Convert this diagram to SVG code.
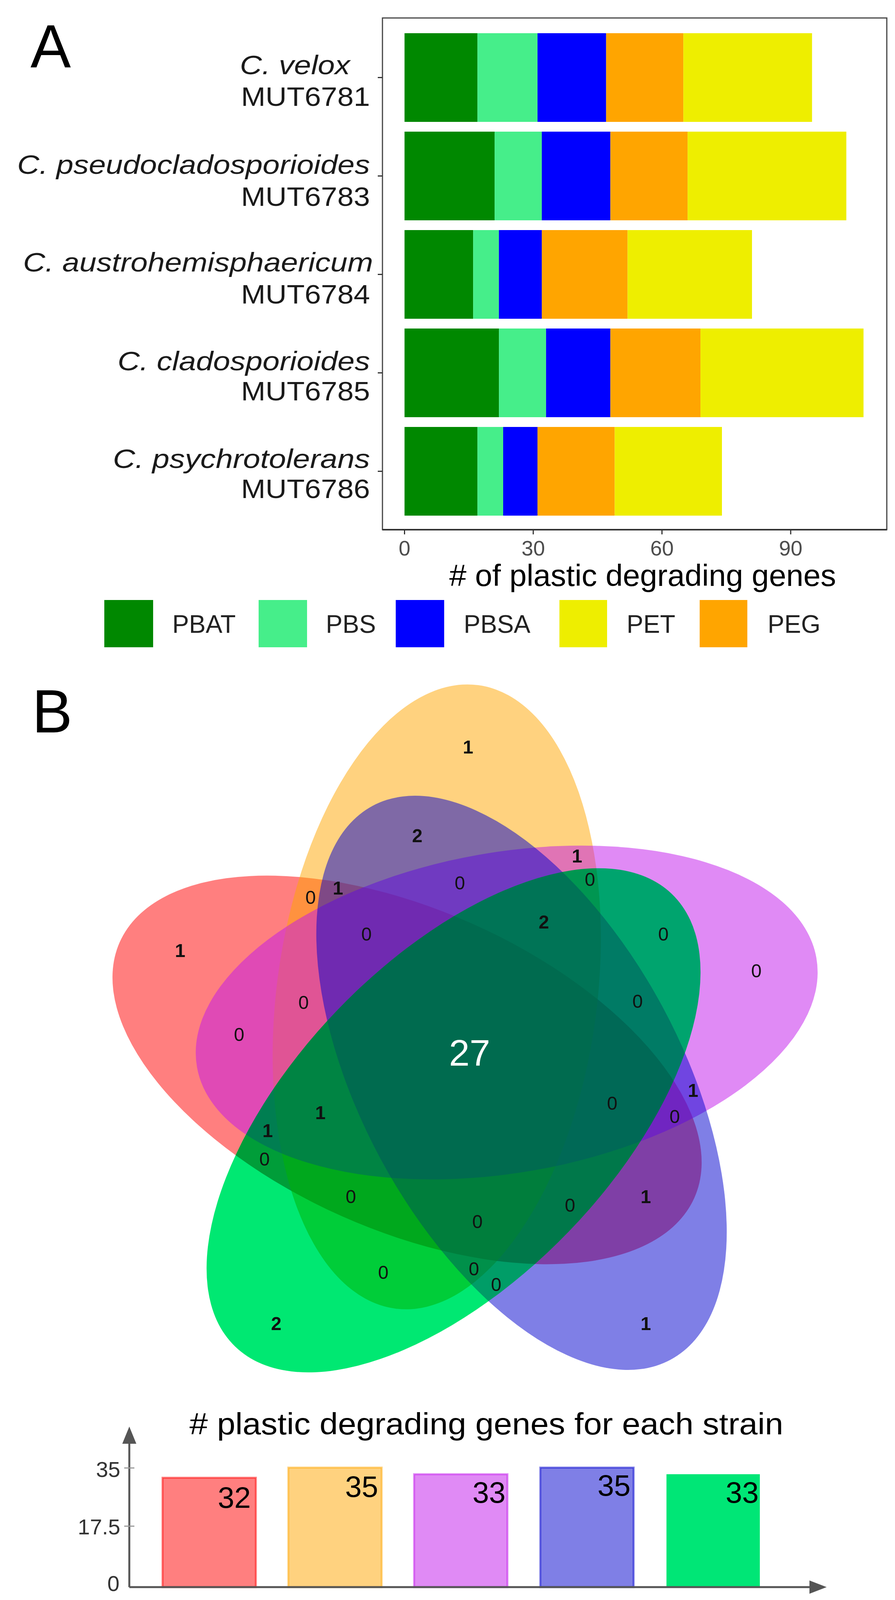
<svg xmlns="http://www.w3.org/2000/svg" width="2291" height="4970" viewBox="0 0 2291 4970">
<style>
text{font-family:"Liberation Sans",Arial,Helvetica,sans-serif}
.it{font-style:italic}
.lab{font-size:68px;fill:#1a1a1a}
.tk{font-size:54px;fill:#4d4d4d}
.leg{font-size:64px;fill:#222}
.vn{font-size:48px;fill:#111;text-anchor:middle}
.vb{font-weight:bold}
.lg{font-size:66px;fill:#1a1a1a}
.big{font-size:155px;fill:#000}
.ttl{font-size:78px;fill:#000}
.val{font-size:76px;fill:#000;text-anchor:end}
.ytk{font-size:56px;fill:#333;text-anchor:end}
.stk{font-size:42px;fill:#555;text-anchor:middle}
.sv{font-size:50px;font-weight:bold;fill:#111;text-anchor:middle}
.pbat{fill:#008800}.pbs{fill:#46ee8a}.pbsa{fill:#0000ff}.peg{fill:#ffa500}.pet{fill:#eeee00}
.ax{stroke:#555;stroke-width:5;fill:none}
.tkl{stroke:#333;stroke-width:3}
.sb{stroke:#c4c4c4;stroke-width:6}
</style>
<rect width="2291" height="4970" fill="#fff"/>

<!-- Panel A -->
<text class="big" x="78" y="172" font-size="150">A</text>
<g id="plotA-frame">
<rect x="979" y="46" width="1291" height="1310" fill="none" stroke="#444" stroke-width="3"/>
<line x1="979" y1="1356" x2="2270" y2="1356" stroke="#333" stroke-width="4"/>
<line class="tkl" x1="1035.5" y1="1356" x2="1035.5" y2="1368"/>
<line class="tkl" x1="1365" y1="1356" x2="1365" y2="1368"/>
<line class="tkl" x1="1694.5" y1="1356" x2="1694.5" y2="1368"/>
<line class="tkl" x1="2024" y1="1356" x2="2024" y2="1368"/>
<line class="tkl" x1="967" y1="198.5" x2="979" y2="198.5"/>
<line class="tkl" x1="967" y1="450.5" x2="979" y2="450.5"/>
<line class="tkl" x1="967" y1="702.5" x2="979" y2="702.5"/>
<line class="tkl" x1="967" y1="954.5" x2="979" y2="954.5"/>
<line class="tkl" x1="967" y1="1206.5" x2="979" y2="1206.5"/>
<text class="tk" x="1035.5" y="1422" text-anchor="middle">0</text>
<text class="tk" x="1365" y="1422" text-anchor="middle">30</text>
<text class="tk" x="1694.5" y="1422" text-anchor="middle">60</text>
<text class="tk" x="2024" y="1422" text-anchor="middle">90</text>
<text class="ttl" x="1150" y="1500" font-size="72" textLength="990" lengthAdjust="spacingAndGlyphs"># of plastic degrading genes</text>
</g>

<g id="barA-6781">
<rect class="pbat" x="1035.5" y="85" width="186.7" height="227"/>
<rect class="pbs" x="1222.2" y="85" width="153.7" height="227"/>
<rect class="pbsa" x="1375.9" y="85" width="175.7" height="227"/>
<rect class="peg" x="1551.6" y="85" width="197.6" height="227"/>
<rect class="pet" x="1749.2" y="85" width="329.4" height="227"/>
<text class="lab it" x="896" y="190" text-anchor="end" textLength="282" lengthAdjust="spacingAndGlyphs">C. velox</text>
<text class="lab" x="947" y="271" text-anchor="end" textLength="330" lengthAdjust="spacingAndGlyphs">MUT6781</text>
</g>
<g id="barA-6783">
<rect class="pbat" x="1035.5" y="337" width="230.6" height="227"/>
<rect class="pbs" x="1266.1" y="337" width="120.8" height="227"/>
<rect class="pbsa" x="1386.9" y="337" width="175.6" height="227"/>
<rect class="peg" x="1562.5" y="337" width="197.7" height="227"/>
<rect class="pet" x="1760.2" y="337" width="406.2" height="227"/>
<text class="lab it" x="947" y="445" text-anchor="end" textLength="903" lengthAdjust="spacingAndGlyphs">C. pseudocladosporioides</text>
<text class="lab" x="947" y="527" text-anchor="end" textLength="330" lengthAdjust="spacingAndGlyphs">MUT6783</text>
</g>
<g id="barA-6784">
<rect class="pbat" x="1035.5" y="589" width="175.7" height="227"/>
<rect class="pbs" x="1211.2" y="589" width="65.9" height="227"/>
<rect class="pbsa" x="1277.1" y="589" width="109.8" height="227"/>
<rect class="peg" x="1386.9" y="589" width="219.6" height="227"/>
<rect class="pet" x="1606.5" y="589" width="318.4" height="227"/>
<text class="lab it" x="955" y="695" text-anchor="end" textLength="896" lengthAdjust="spacingAndGlyphs">C. austrohemisphaericum</text>
<text class="lab" x="947" y="777" text-anchor="end" textLength="330" lengthAdjust="spacingAndGlyphs">MUT6784</text>
</g>
<g id="barA-6785">
<rect class="pbat" x="1035.5" y="841" width="241.6" height="227"/>
<rect class="pbs" x="1277.1" y="841" width="120.7" height="227"/>
<rect class="pbsa" x="1397.8" y="841" width="164.7" height="227"/>
<rect class="peg" x="1562.5" y="841" width="230.6" height="227"/>
<rect class="pet" x="1793.1" y="841" width="417.3" height="227"/>
<text class="lab it" x="947" y="948" text-anchor="end" textLength="646" lengthAdjust="spacingAndGlyphs">C. cladosporioides</text>
<text class="lab" x="947" y="1025" text-anchor="end" textLength="330" lengthAdjust="spacingAndGlyphs">MUT6785</text>
</g>
<g id="barA-6786">
<rect class="pbat" x="1035.5" y="1093" width="186.7" height="227"/>
<rect class="pbs" x="1222.2" y="1093" width="65.8" height="227"/>
<rect class="pbsa" x="1288" y="1093" width="87.9" height="227"/>
<rect class="peg" x="1375.9" y="1093" width="197.6" height="227"/>
<rect class="pet" x="1573.5" y="1093" width="274.5" height="227"/>
<text class="lab it" x="947" y="1198" text-anchor="end" textLength="658" lengthAdjust="spacingAndGlyphs">C. psychrotolerans</text>
<text class="lab" x="947" y="1275" text-anchor="end" textLength="330" lengthAdjust="spacingAndGlyphs">MUT6786</text>
</g>

<g id="legendA">
<rect class="pbat" x="267" y="1536" width="125" height="121"/>
<text class="leg" x="441" y="1620">PBAT</text>
<rect class="pbs" x="662" y="1536" width="124" height="121"/>
<text class="leg" x="834" y="1620">PBS</text>
<rect class="pbsa" x="1013" y="1536" width="124" height="121"/>
<text class="leg" x="1187" y="1620">PBSA</text>
<rect class="pet" x="1432" y="1536" width="122" height="121"/>
<text class="leg" x="1604" y="1620">PET</text>
<rect class="peg" x="1791" y="1536" width="122" height="121"/>
<text class="leg" x="1965" y="1620">PEG</text>
</g>

<!-- Panel B -->
<text class="big" x="82" y="1875">B</text>
<g id="venn-velox"><ellipse cx="0" cy="0" rx="805" ry="410" transform="translate(1042 2739) rotate(24)" fill="#ff0000" fill-opacity="0.5"/></g>
<g id="venn-pseudocladosporioides"><ellipse cx="0" cy="0" rx="805" ry="410" transform="translate(1118 2552) rotate(-82.4)" fill="#ffa500" fill-opacity="0.5"/></g>
<g id="venn-austrohemisphaericum"><ellipse cx="0" cy="0" rx="805" ry="410" transform="translate(1297 2592) rotate(-10)" fill="#c115eb" fill-opacity="0.5"/></g>
<g id="venn-cladosporioides"><ellipse cx="0" cy="0" rx="805" ry="410" transform="translate(1335 2772) rotate(61.7)" fill="#0000cd" fill-opacity="0.5"/></g>
<g id="venn-psychrotolerans">
<ellipse cx="0" cy="0" rx="805" ry="410" transform="translate(1161 2868) rotate(-46)" fill="rgb(0,173,57)" style="mix-blend-mode:hard-light"/>
<ellipse cx="0" cy="0" rx="805" ry="410" transform="translate(1161 2868) rotate(-46)" fill="rgb(255,232,255)" style="mix-blend-mode:multiply"/>
</g>

<g id="venn-labels">
<text class="vn vb" x="1198" y="1929">1</text>
<text class="vn vb" x="1068" y="2156">2</text>
<text class="vn" x="1177" y="2277">0</text>
<text class="vn" x="795" y="2314">0</text>
<text class="vn vb" x="865" y="2290">1</text>
<text class="vn vb" x="461" y="2450">1</text>
<text class="vn" x="938" y="2408">0</text>
<text class="vn" x="777" y="2583">0</text>
<text class="vn" x="612" y="2665">0</text>
<text class="vn vb" x="1477" y="2208">1</text>
<text class="vn" x="1510" y="2268">0</text>
<text class="vn vb" x="1392" y="2377">2</text>
<text class="vn" x="1698" y="2408">0</text>
<text class="vn" x="1936" y="2502">0</text>
<text class="vn" x="1632" y="2580">0</text>
<text class="vn vb" x="820" y="2865">1</text>
<text class="vn vb" x="685" y="2911">1</text>
<text class="vn" x="677" y="2984">0</text>
<text class="vn" x="898" y="3080">0</text>
<text class="vn" x="981" y="3274">0</text>
<text class="vn vb" x="707" y="3405">2</text>
<text x="1202" y="2728" font-size="95" fill="#fff" text-anchor="middle">27</text>
<text class="vn" x="1567" y="2841">0</text>
<text class="vn vb" x="1774" y="2808">1</text>
<text class="vn" x="1727" y="2875">0</text>
<text class="vn vb" x="1653" y="3080">1</text>
<text class="vn" x="1459" y="3102">0</text>
<text class="vn" x="1222" y="3144">0</text>
<text class="vn" x="1213" y="3265">0</text>
<text class="vn" x="1270" y="3305">0</text>
<text class="vn vb" x="1653" y="3405">1</text>
</g>

<g id="strain-chart">
<text class="ttl" x="485" y="3672" textLength="1520" lengthAdjust="spacingAndGlyphs"># plastic degrading genes for each strain</text>
<line class="ax" x1="331" y1="4063" x2="331" y2="3690"/>
<polygon points="331,3652 313,3696 349,3696" fill="#555"/>
<line x1="318" y1="3758" x2="344" y2="3758" stroke="#999" stroke-width="3"/>
<line x1="318" y1="3907" x2="344" y2="3907" stroke="#999" stroke-width="3"/>
<text class="ytk" x="308" y="3781">35</text>
<text class="ytk" x="308" y="3928">17.5</text>
<text class="ytk" x="306" y="4073">0</text>
</g>
<g id="bar-6781"><rect x="416" y="3783" width="239" height="280" fill="#ff0000" fill-opacity="0.5" stroke="#ff0000" stroke-opacity="0.5" stroke-width="5"/><text class="val" x="642" y="3860">32</text></g>
<g id="bar-6783"><rect x="738" y="3757" width="239" height="306" fill="#ffa500" fill-opacity="0.5" stroke="#ffa500" stroke-opacity="0.5" stroke-width="5"/><text class="val" x="968" y="3832">35</text></g>
<g id="bar-6784"><rect x="1060" y="3774" width="239" height="289" fill="#c115eb" fill-opacity="0.5" stroke="#c115eb" stroke-opacity="0.5" stroke-width="5"/><text class="val" x="1294" y="3847">33</text></g>
<g id="bar-6785"><rect x="1383" y="3757" width="239" height="306" fill="#0000cd" fill-opacity="0.5" stroke="#0000cd" stroke-opacity="0.5" stroke-width="5"/><text class="val" x="1614" y="3829">35</text></g>
<g id="bar-6786"><rect x="1706" y="3774" width="239" height="289" fill="#00e676"/><text class="val" x="1942" y="3847">33</text></g>
<g id="strain-xaxis">
<line class="ax" x1="331" y1="4063" x2="2078" y2="4063"/>
<polygon points="2116,4063 2072,4046 2072,4080" fill="#555"/>
</g>

<g id="shared-chart">
<text class="ttl" x="576" y="4250" textLength="1336" lengthAdjust="spacingAndGlyphs"># of shared plastic degrading genes</text>
<rect class="sb" x="377" y="4346" width="1084" height="85" fill="#f2e4ee"/>
<rect class="sb" x="1469" y="4346" width="106" height="85" fill="#f0deec"/>
<rect class="sb" x="1590" y="4346" width="68" height="85" fill="#ead4e6"/>
<rect class="sb" x="1669" y="4346" width="194" height="85" fill="#dec0d8"/>
<rect class="sb" x="1874" y="4346" width="190" height="85" fill="#c894bc"/>
<text class="sv" x="919" y="4409">27</text>
<text class="sv" x="1520" y="4409">3</text>
<text class="sv" x="1770" y="4409">5</text>
<text class="sv" x="1970" y="4409">5</text>
<line x1="333" y1="4454" x2="2110" y2="4454" stroke="#555" stroke-width="5"/>
<line x1="919" y1="4456" x2="919" y2="4477" stroke="#999" stroke-width="3"/>
<line x1="1523" y1="4456" x2="1523" y2="4477" stroke="#999" stroke-width="3"/>
<line x1="1625" y1="4456" x2="1625" y2="4477" stroke="#999" stroke-width="3"/>
<line x1="1765" y1="4456" x2="1765" y2="4477" stroke="#999" stroke-width="3"/>
<line x1="1969" y1="4456" x2="1969" y2="4477" stroke="#999" stroke-width="3"/>
<text class="stk" x="919" y="4528">5</text>
<text class="stk" x="1523" y="4528">4</text>
<text class="stk" x="1614" y="4528" text-anchor="start">3 (2)</text>
<text class="stk" x="1765" y="4580">2</text>
<text class="stk" x="1969" y="4528">1</text>
</g>

<g id="legendB">
<rect x="48" y="4625" width="89" height="89" fill="#ee0000"/>
<text class="lg" x="169" y="4694"><tspan class="it">C. velox</tspan> MUT6781</text>
<rect x="48" y="4742" width="89" height="88" fill="#ffa500"/>
<text class="lg" x="169" y="4806"><tspan class="it">C. pseudocladosporioides</tspan> MUT6783</text>
<rect x="48" y="4858" width="89" height="88" fill="#b414ee"/>
<text class="lg" x="169" y="4920"><tspan class="it">C. austrohemisphaericum</tspan> MUT6784</text>
<rect x="1272" y="4628" width="86" height="86" fill="#0000cc"/>
<text class="lg" x="1389" y="4690"><tspan class="it">C. cladosporioides</tspan> MUT6785</text>
<rect x="1272" y="4744" width="86" height="86" fill="#00cc00"/>
<text class="lg" x="1389" y="4806"><tspan class="it">C. psychrotolerans</tspan> MUT6786</text>
</g>
</svg>
